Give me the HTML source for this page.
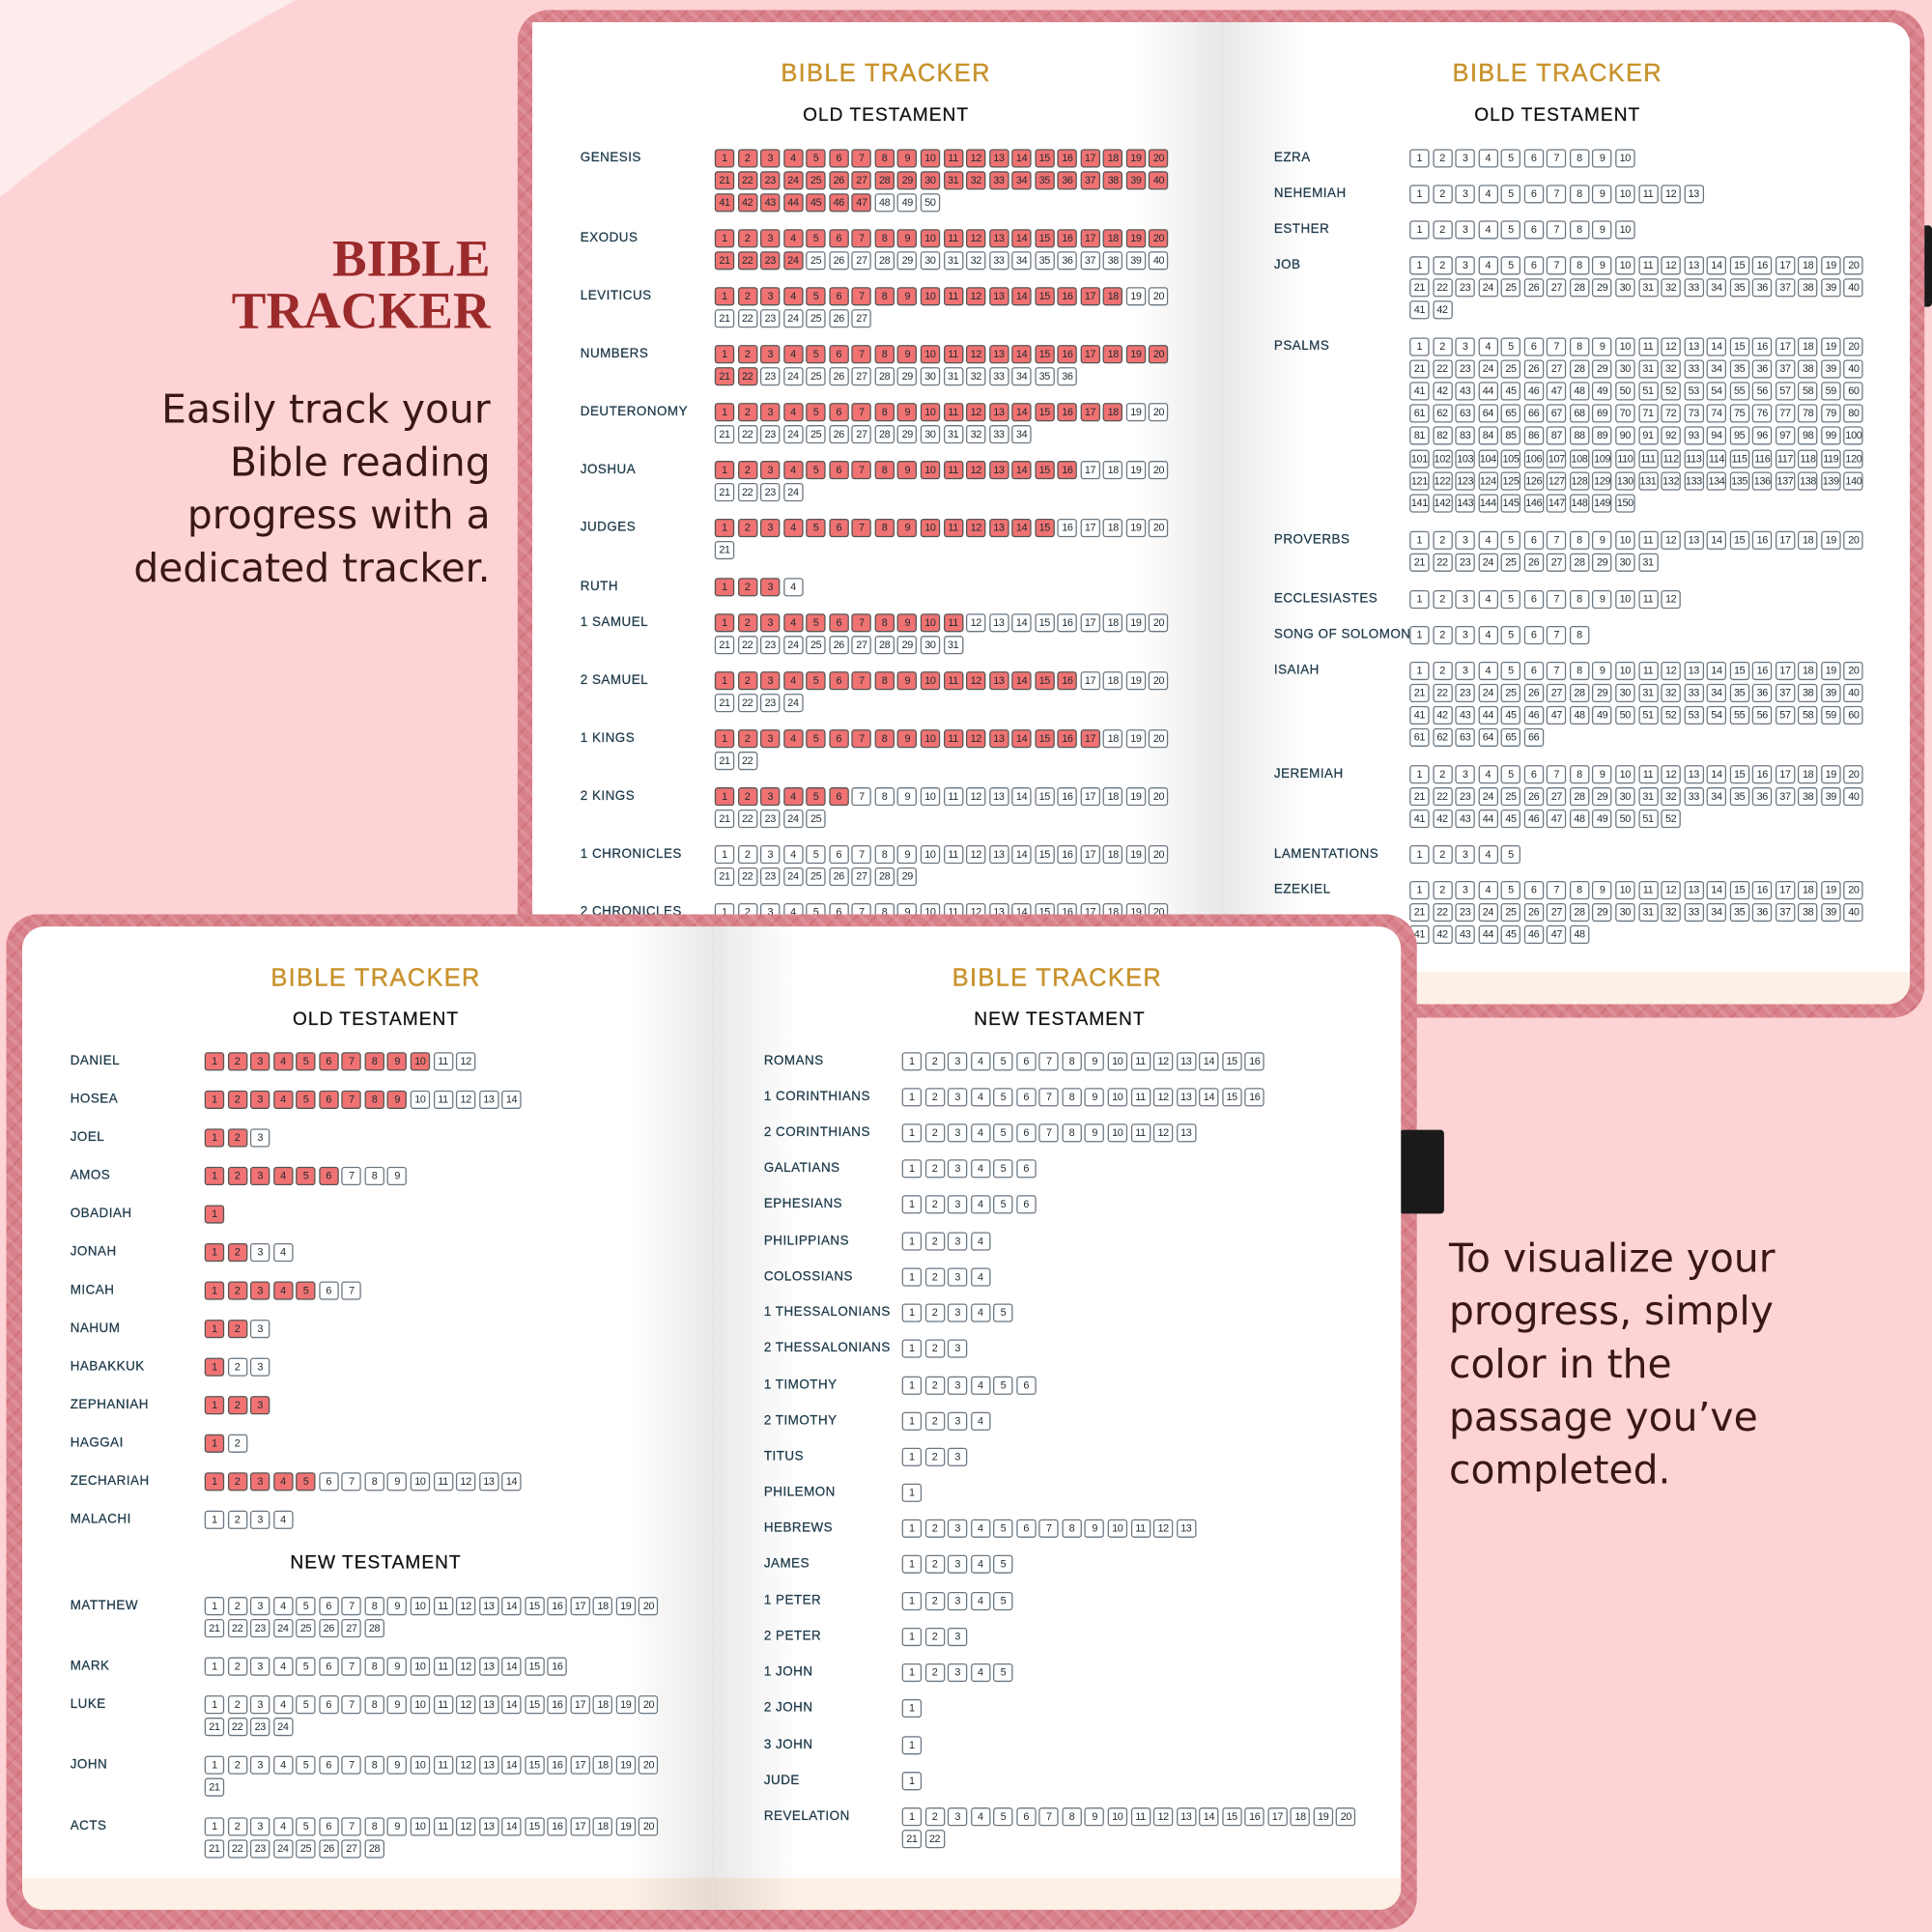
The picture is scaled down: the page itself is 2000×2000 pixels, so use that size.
<!DOCTYPE html>
<html><head><meta charset="utf-8">
<style>
html,body{margin:0;padding:0;overflow:hidden;}
body{width:2000px;height:2000px;overflow:hidden;position:relative;}
#s{position:absolute;left:0;top:0;width:1568px;height:1568px;transform:scale(1.27551);transform-origin:0 0;overflow:hidden;font-family:"Liberation Sans",sans-serif;
background:radial-gradient(circle 1450px at 920px 1280px,#fdd3d5 0,#fdd3d5 99.9%,#fdecec 100%);}
.abs{position:absolute;}
.frame{position:absolute;border-radius:26px;background:#d9818a;background-image:repeating-linear-gradient(45deg,rgba(255,255,255,.12) 0 3px,transparent 3px 9px),repeating-linear-gradient(-45deg,rgba(160,40,60,.15) 0 2px,transparent 2px 11px);}
.page{position:absolute;background:#fff;overflow:hidden;}
.t1{position:absolute;color:#c8922c;font-size:20px;letter-spacing:1px;transform:translateX(-50%);white-space:nowrap;-webkit-text-stroke:.3px #c8922c;}
.t2{position:absolute;color:#111;font-size:15px;letter-spacing:.8px;transform:translateX(-50%);white-space:nowrap;-webkit-text-stroke:.2px #111;}
.nm{position:absolute;color:#1e3a4a;font-size:10.5px;letter-spacing:.4px;white-space:nowrap;line-height:12px;-webkit-text-stroke:.2px #1e3a4a;}
.b{position:absolute;width:16px;height:15px;border:1px solid #6a7680;border-radius:2.5px;box-sizing:border-box;font-size:8.5px;line-height:13px;text-align:center;color:#1e2a30;background:#fff;letter-spacing:-.3px;}
.f{background:#f07272;border-color:#555;}
.big{position:absolute;font-family:"DejaVu Sans",sans-serif;color:#3a1717;font-size:32px;line-height:43px;}
</style></head><body><div id="s">

<div class="big" style="left:0;width:398px;top:190px;text-align:right;font-family:'Liberation Serif',serif;font-weight:bold;color:#9b2a2a;font-size:42px;line-height:42px;">BIBLE<br>TRACKER</div>
<div class="big" style="left:0;width:398px;top:311px;text-align:right;">Easily track your<br>Bible reading<br>progress with a<br>dedicated tracker.</div>
<div class="big" style="left:1176px;top:1000px;">To visualize your<br>progress, simply<br>color in the<br>passage you’ve<br>completed.</div>

<div class="abs" style="left:1548px;top:183px;width:20px;height:66px;background:#1a1a1a;border-radius:3px;"></div>
<div class="frame" style="left:420px;top:8px;width:1142px;height:818px;"></div>
<div class="page" id="p1" style="left:432px;top:18px;width:560px;height:797px;"></div>
<div class="page" id="p2" style="left:992px;top:18px;width:558px;height:797px;border-radius:0 18px 18px 0;"></div>

<div class="frame" style="left:5px;top:742px;width:1145px;height:824px;"></div>
<div class="abs" style="left:1136px;top:917px;width:36px;height:68px;background:#1a1a1a;border-radius:3px;"></div>
<div class="page" id="p3" style="left:18px;top:752px;width:560px;height:798px;border-radius:18px 0 0 18px;"></div>
<div class="page" id="p4" style="left:578px;top:752px;width:559px;height:798px;border-radius:0 18px 18px 0;"></div>
</div>
<script>
var P=[{id:'p1',x:432,y:18},{id:'p2',x:992,y:18},{id:'p3',x:18,y:752},{id:'p4',x:578,y:752}];
function el(pi,cls,x,y,txt){var p=P[pi];var d=document.createElement('div');d.className=cls;d.style.left=(x-p.x)+'px';d.style.top=(y-p.y)+'px';d.textContent=txt;document.getElementById(p.id).appendChild(d);return d;}
function rows(pi,nx,bx,list){list.forEach(function(r){var nm=r[0],y=r[1],n=r[2],f=r[3]||0;el(pi,'nm',nx,y-6,nm);for(var i=0;i<n;i++){var c=i%20,rw=Math.floor(i/20);el(pi,'b'+(i<f?' f':''),bx+c*18.55,y-7.5+rw*18.2,i+1);}});}
[0,1,2,3].forEach(function(i){var p=document.getElementById(P[i].id);var s=document.createElement('div');s.style.cssText='position:absolute;left:0;right:0;bottom:0;height:26px;background:#fdf0e6;';p.appendChild(s);var g=document.createElement('div');var left=(i%2==0);g.style.cssText='position:absolute;top:0;bottom:0;width:70px;'+(left?'right:0;background:linear-gradient(to left,rgba(0,0,0,.09),rgba(0,0,0,0));':'left:0;background:linear-gradient(to right,rgba(0,0,0,.09),rgba(0,0,0,0));');p.appendChild(g);});
el(0,'t1',719,49,'BIBLE TRACKER');el(0,'t2',719,85,'OLD TESTAMENT');
el(1,'t1',1264,49,'BIBLE TRACKER');el(1,'t2',1264,85,'OLD TESTAMENT');
el(2,'t1',305,783,'BIBLE TRACKER');el(2,'t2',305,819,'OLD TESTAMENT');el(2,'t2',305,1260,'NEW TESTAMENT');
el(3,'t1',858,783,'BIBLE TRACKER');el(3,'t2',860,819,'NEW TESTAMENT');
rows(0,471,580,[['GENESIS',128,50,47],['EXODUS',193,40,24],['LEVITICUS',240,27,18],['NUMBERS',287,36,22],['DEUTERONOMY',334,34,18],['JOSHUA',381,24,16],['JUDGES',428,21,15],['RUTH',476,4,3],['1 SAMUEL',505,31,11],['2 SAMUEL',552,24,16],['1 KINGS',599,22,17],['2 KINGS',646,25,6],['1 CHRONICLES',693,29,0],['2 CHRONICLES',740,36,0]]);
rows(1,1034,1144,[['EZRA',128,10],['NEHEMIAH',157,13],['ESTHER',186,10],['JOB',215,42],['PSALMS',281,150],['PROVERBS',438,31],['ECCLESIASTES',486,12],['SONG OF SOLOMON',515,8],['ISAIAH',544,66],['JEREMIAH',628,52],['LAMENTATIONS',693,5],['EZEKIEL',722,48]]);
rows(2,57,166,[['DANIEL',861,12,10],['HOSEA',892,14,9],['JOEL',923,3,2],['AMOS',954,9,6],['OBADIAH',985,1,1],['JONAH',1016,4,2],['MICAH',1047,7,5],['NAHUM',1078,3,2],['HABAKKUK',1109,3,1],['ZEPHANIAH',1140,3,3],['HAGGAI',1171,2,1],['ZECHARIAH',1202,14,5],['MALACHI',1233,4,0],['MATTHEW',1303,28],['MARK',1352,16],['LUKE',1383,24],['JOHN',1432,21],['ACTS',1482,28]]);
rows(3,620,732,[['ROMANS',861,16],['1 CORINTHIANS',890,16],['2 CORINTHIANS',919,13],['GALATIANS',948,6],['EPHESIANS',977,6],['PHILIPPIANS',1007,4],['COLOSSIANS',1036,4],['1 THESSALONIANS',1065,5],['2 THESSALONIANS',1094,3],['1 TIMOTHY',1124,6],['2 TIMOTHY',1153,4],['TITUS',1182,3],['PHILEMON',1211,1],['HEBREWS',1240,13],['JAMES',1269,5],['1 PETER',1299,5],['2 PETER',1328,3],['1 JOHN',1357,5],['2 JOHN',1386,1],['3 JOHN',1416,1],['JUDE',1445,1],['REVELATION',1474,22]]);
</script>
</body></html>
